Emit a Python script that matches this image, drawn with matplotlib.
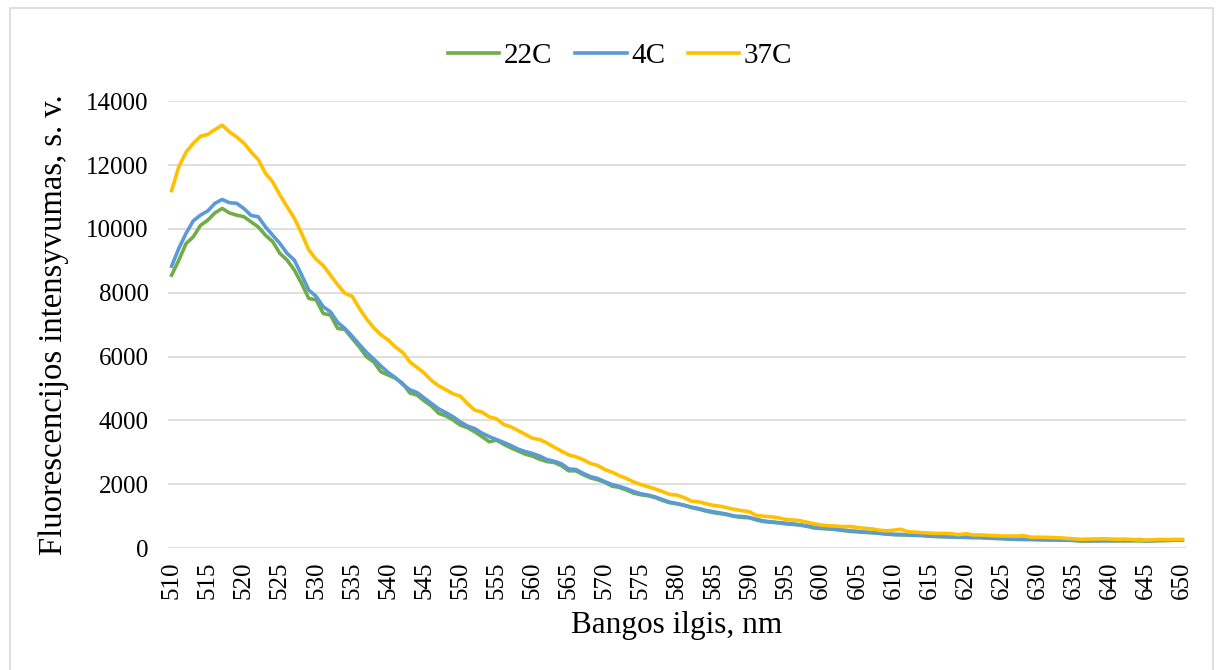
import matplotlib
matplotlib.use('agg')
import matplotlib.pyplot as plt
from matplotlib.patches import Rectangle
import numpy as np

# wavelengths, nm
bangos = list(range(510, 651))

c22 = [8550, 9020, 9540, 9750, 10110, 10270, 10500, 10640, 10500, 10430,
       10380, 10220, 10060, 9800, 9600, 9230, 9020, 8710, 8290, 7820,
       7780, 7350, 7300, 6880, 6850, 6570, 6300, 5990, 5830, 5520,
       5420, 5320, 5160, 4860, 4790, 4610, 4450, 4220, 4140, 4010,
       3850, 3770, 3640, 3490, 3330, 3380, 3250, 3140, 3040, 2940,
       2880, 2780, 2710, 2680, 2580, 2420, 2420, 2300, 2200, 2140,
       2060, 1940, 1900, 1820, 1720, 1670, 1640, 1580, 1490, 1420,
       1390, 1340, 1270, 1220, 1160, 1110, 1080, 1040, 990, 960,
       950, 880, 830, 810, 790, 760, 740, 720, 680, 630,
       610, 600, 580, 550, 520, 510, 490, 480, 460, 440,
       420, 410, 410, 400, 390, 370, 360, 355, 350, 340,
       335, 330, 330, 310, 300, 295, 280, 270, 270, 270,
       265, 260, 255, 250, 250, 240, 220, 225, 230, 230,
       230, 230, 230, 230, 225, 220, 230, 235, 240, 245,
       250]

c4 = [8830, 9390, 9860, 10250, 10430, 10560, 10800, 10920, 10820, 10800,
      10640, 10420, 10380, 10060, 9800, 9540, 9230, 9020, 8560, 8080,
      7890, 7560, 7400, 7070, 6880, 6640, 6380, 6130, 5920, 5700,
      5500, 5340, 5130, 4960, 4870, 4700, 4530, 4360, 4240, 4110,
      3950, 3820, 3740, 3600, 3490, 3400, 3310, 3210, 3100, 3020,
      2960, 2880, 2770, 2720, 2640, 2480, 2460, 2340, 2240, 2180,
      2080, 1990, 1930, 1860, 1770, 1700, 1660, 1600, 1520, 1440,
      1390, 1340, 1280, 1240, 1180, 1140, 1100, 1060, 1000, 990,
      960, 900, 850, 820, 800, 780, 760, 730, 700, 650,
      630, 610, 590, 570, 540, 520, 500, 490, 470, 450,
      430, 430, 410, 400, 400, 380, 370, 360, 350, 340,
      340, 330, 330, 320, 310, 300, 290, 280, 275, 270,
      265, 260, 255, 250, 245, 240, 230, 230, 225, 230,
      230, 230, 235, 230, 270, 230, 230, 240, 240, 250,
      250]

c37 = [11200, 11950, 12400, 12680, 12900, 12960, 13110, 13250, 13040, 12880,
       12690, 12410, 12170, 11740, 11470, 11060, 10690, 10330, 9860, 9340,
       9050, 8850, 8550, 8250, 7980, 7890, 7510, 7180, 6900, 6680,
       6520, 6300, 6130, 5830, 5660, 5480, 5250, 5080, 4960, 4830,
       4760, 4520, 4320, 4260, 4110, 4050, 3870, 3800, 3680, 3560,
       3440, 3400, 3290, 3160, 3040, 2920, 2860, 2770, 2650, 2590,
       2460, 2380, 2270, 2180, 2070, 1990, 1920, 1850, 1770, 1680,
       1660, 1580, 1470, 1450, 1390, 1340, 1310, 1260, 1210, 1170,
       1140, 1020, 1000, 980, 950, 900, 880, 860, 810, 760,
       720, 700, 690, 670, 680, 640, 620, 600, 560, 540,
       560, 590, 510, 500, 480, 470, 460, 460, 450, 420,
       450, 410, 410, 400, 390, 380, 375, 375, 390, 340,
       340, 335, 330, 320, 305, 290, 275, 280, 285, 290,
       285, 275, 280, 270, 255, 250, 260, 270, 265, 270,
       270]

serif = ['Liberation Serif', 'DejaVu Serif']
plt.rcParams['font.family'] = serif

fig = plt.figure(figsize=(12.21, 6.70), dpi=100)
ax = fig.add_axes([0.1376, 0.182, 0.8337, 0.667])

ax.plot(bangos, c22, color='#70AD47', lw=2.6, label='22C')
ax.plot(bangos, c4, color='#5B9BD5', lw=2.6, label='4C')
ax.plot(bangos, c37, color='#FFC000', lw=2.6, label='37C')

ax.set_xlim(509.5, 650.5)
ax.set_ylim(0, 14000)
ax.set_xticks(range(510, 651, 5))
ax.set_yticks(range(0, 14001, 2000))
ax.tick_params(axis='x', labelrotation=90, labelsize=18, length=0, pad=10)
ax.tick_params(axis='y', labelsize=18, length=0, pad=14)
ax.grid(axis='y', color='#D9D9D9', lw=1.2)
ax.set_axisbelow(True)
for s in ax.spines.values():
    s.set_visible(False)

ax.set_xlabel('Bangos ilgis, nm', fontsize=22.5, labelpad=8)
ax.set_ylabel('Fluorescencijos intensyvumas, s. v.', fontsize=23.5, labelpad=12)

fig.legend(loc='center', bbox_to_anchor=(0.508, 0.916), ncol=3, frameon=False,
           fontsize=21, handlelength=1.75, handletextpad=0.15, columnspacing=0.8)

fig.patches.append(Rectangle((10 / 1221, -0.01), 1203 / 1221, 1 - 8 / 670 + 0.01,
                             transform=fig.transFigure, fill=False,
                             edgecolor='#D9D9D9', lw=1.2))

fig.savefig('out.png', dpi=100)
